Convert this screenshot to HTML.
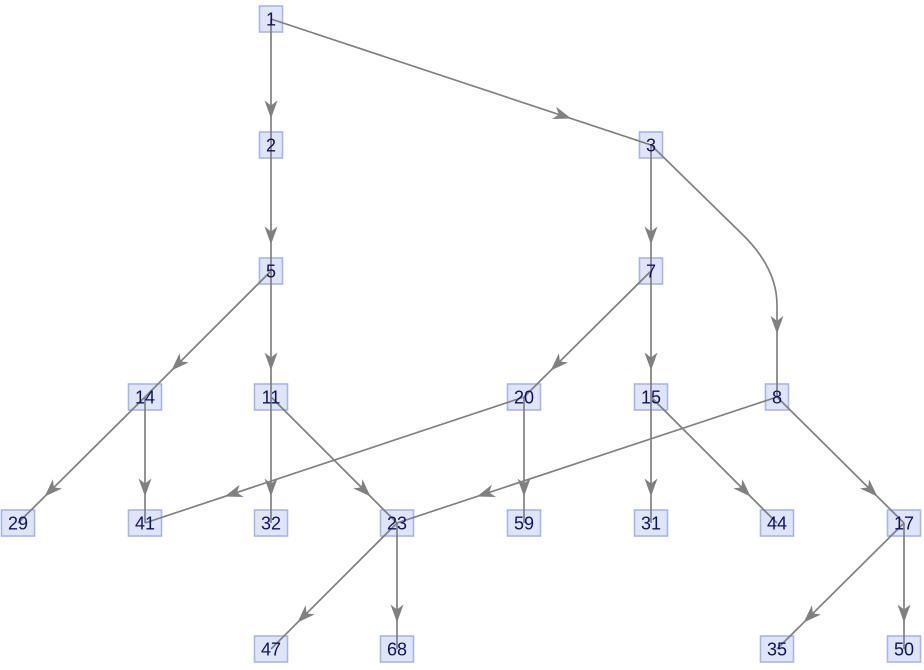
<!DOCTYPE html>
<html><head><meta charset="utf-8"><style>
html,body{margin:0;padding:0;background:#fff;}
svg{display:block;}
</style></head><body>
<svg id="s" width="924" height="670" viewBox="0 0 924 670" xmlns="http://www.w3.org/2000/svg">
<g id="boxes"></g><g id="edges"></g><g id="labels" font-family="Liberation Sans, sans-serif" font-size="18" fill="#0a1466"></g>
</svg>
<script>
const N={1:[271,19],2:[271,145],3:[651,145],5:[271,271],7:[651,271],14:[145,397],11:[271,397],20:[524,397],15:[651,397],8:[777,397],
29:[18,523],41:[145,523],32:[271,523],23:[397,523],59:[524,523],31:[651,523],44:[777,523],17:[904,523],
47:[271,649],68:[397,649],35:[777,649],50:[904,649]};
const E=[[1,2],[1,3],[2,5],[3,7],[3,8],[5,14],[5,11],[7,20],[7,15],[14,29],[14,41],[11,32],[11,23],[20,41],[20,59],[15,31],[15,44],[8,23],[8,17],[23,47],[23,68],[17,35],[17,50]];
const ns="http://www.w3.org/2000/svg";
function el(t,a,p){const e=document.createElementNS(ns,t);for(const k in a)e.setAttribute(k,a[k]);p.appendChild(e);return e;}
const B=document.getElementById('boxes'),G=document.getElementById('edges'),L=document.getElementById('labels');
for(const k in N){const [x,y]=N[k];const w=k.length>1?33:23,h=26;
el('rect',{x:x-w/2,y:y-h/2,width:w,height:h,fill:'#dfe5f7',stroke:'#a5b6ea','stroke-width':1.6},B);
const t=el('text',{x:x,y:y+6.5,'text-anchor':'middle','font-size':'18','font-family':'Liberation Sans, sans-serif',fill:'#0a1466'},L);t.textContent=k;}
for(const [a,b] of E){const [x1,y1]=N[a],[x2,y2]=N[b];
let d=(a==3&&b==8)?`M${x1},${y1} L742,234 Q777,268 777,305 L${x2},${y2}`:`M${x1},${y1} L${x2},${y2}`;
const p=el('path',{d:d,fill:'none',stroke:'#808080','stroke-width':1.7},G);
const len=p.getTotalLength();const tp=len*0.79;const P=p.getPointAtLength(tp),Q=p.getPointAtLength(tp-2);
const ang=Math.atan2(P.y-Q.y,P.x-Q.x)*180/Math.PI;
el('polygon',{points:'0,0 -18,-6.5 -13,0 -18,6.5',fill:'#808080',transform:`translate(${P.x},${P.y}) rotate(${ang})`},G);}
</script>
</body></html>
